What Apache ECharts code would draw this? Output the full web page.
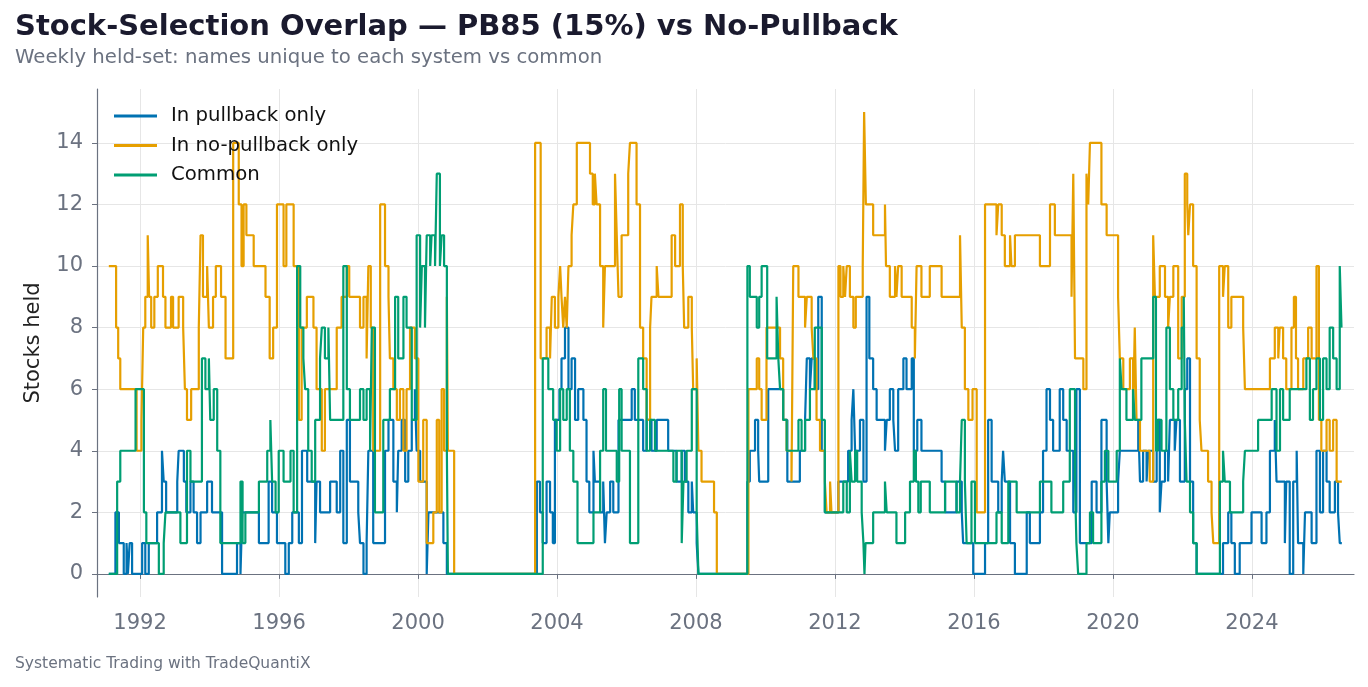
<!DOCTYPE html>
<html>
<head>
<meta charset="utf-8">
<script src="https://cdn.jsdelivr.net/npm/echarts@6/dist/echarts.min.js"></script>
<style>
  html, body { margin: 0; padding: 0; background: #fff; }
  #chart { width: 1368px; height: 687px; }
</style>
</head>
<body>
<div id="chart"></div>
<script>
// weekly held-set counts, kept as [decimal year, count] at each change
const pullbackOnly = [
  [1991.10, 0], [1991.29, 2], [1991.39, 1], [1991.53, 0], [1991.61, 1], [1991.65, 0], [1991.70, 1], [1991.77, 0],
  [1992.06, 1], [1992.15, 0], [1992.25, 1], [1992.49, 2], [1992.63, 4], [1992.68, 3], [1992.75, 2], [1993.07, 3],
  [1993.11, 4], [1993.26, 3], [1993.33, 2], [1993.45, 3], [1993.54, 2], [1993.64, 1], [1993.74, 2], [1993.93, 3],
  [1994.07, 2], [1994.36, 0], [1994.79, 1], [1994.89, 0], [1994.94, 2], [1995.42, 1], [1995.70, 3], [1995.80, 2],
  [1995.94, 1], [1996.18, 0], [1996.28, 1], [1996.38, 2], [1996.57, 1], [1996.66, 4], [1996.81, 3], [1997.04, 1],
  [1997.08, 3], [1997.18, 2], [1997.47, 3], [1997.66, 2], [1997.76, 4], [1997.85, 1], [1997.95, 5], [1998.04, 3],
  [1998.28, 2], [1998.33, 1], [1998.43, 0], [1998.52, 1], [1998.57, 4], [1998.71, 1], [1999.05, 4], [1999.15, 5],
  [1999.29, 3], [1999.39, 2], [1999.43, 4], [1999.53, 5], [1999.63, 3], [1999.72, 4], [1999.82, 5], [1999.91, 6],
  [1999.96, 4], [2000.06, 3], [2000.25, 0], [2000.30, 2], [2000.73, 1], [2000.83, 0],
  [2003.42, 3], [2003.51, 2], [2003.59, 1], [2003.70, 3], [2003.80, 2], [2003.88, 1], [2003.94, 5], [2004.07, 6],
  [2004.13, 7], [2004.23, 8], [2004.33, 6], [2004.42, 7], [2004.52, 5], [2004.61, 6], [2004.76, 5], [2004.85, 3],
  [2004.93, 2], [2005.05, 4], [2005.09, 3], [2005.24, 2], [2005.33, 3], [2005.38, 1], [2005.43, 2], [2005.53, 3],
  [2005.62, 2], [2005.77, 5], [2006.15, 6], [2006.24, 5], [2006.48, 4], [2006.58, 5], [2006.72, 4], [2006.87, 5],
  [2007.20, 4], [2007.44, 3], [2007.59, 4], [2007.68, 3], [2007.78, 2], [2007.88, 3], [2007.92, 2], [2008.02, 1],
  [2008.07, 0],
  [2009.48, 3], [2009.55, 4], [2009.70, 5], [2009.79, 4], [2009.82, 3], [2010.08, 6], [2010.51, 5], [2010.63, 3],
  [2010.99, 4], [2011.14, 5], [2011.19, 7], [2011.28, 6], [2011.33, 7], [2011.42, 6], [2011.52, 9], [2011.62, 4],
  [2011.71, 2], [2012.10, 3], [2012.38, 4], [2012.48, 5], [2012.53, 6], [2012.58, 4], [2012.72, 5], [2012.82, 3],
  [2012.91, 9], [2012.99, 7], [2013.10, 6], [2013.20, 5], [2013.44, 4], [2013.49, 5], [2013.58, 6], [2013.68, 5],
  [2013.73, 4], [2013.82, 6], [2013.97, 7], [2014.06, 6], [2014.21, 7], [2014.27, 4], [2014.37, 5], [2014.49, 4],
  [2015.07, 3], [2015.17, 2], [2015.50, 3], [2015.65, 2], [2015.69, 1], [2015.98, 0], [2016.32, 1], [2016.41, 5],
  [2016.51, 3], [2016.70, 2], [2016.80, 3], [2016.84, 4], [2016.89, 3], [2017.04, 1], [2017.18, 0], [2017.52, 2],
  [2017.61, 1], [2017.90, 2], [2017.99, 4], [2018.09, 6], [2018.19, 5], [2018.28, 4], [2018.47, 6], [2018.57, 5],
  [2018.67, 4], [2018.86, 2], [2018.95, 6], [2019.05, 1], [2019.39, 3], [2019.53, 2], [2019.67, 5], [2019.82, 3],
  [2019.87, 1], [2019.91, 2], [2020.15, 3], [2020.20, 4], [2020.73, 5], [2020.78, 3], [2020.87, 4], [2020.97, 3],
  [2021.02, 4], [2021.16, 3], [2021.26, 5], [2021.35, 2], [2021.40, 3], [2021.50, 4], [2021.59, 3], [2021.64, 5],
  [2021.78, 4], [2021.83, 5], [2021.93, 3], [2022.07, 6], [2022.14, 7], [2022.22, 3], [2022.31, 1], [2022.41, 0],
  [2023.17, 1], [2023.32, 2], [2023.41, 1], [2023.51, 0], [2023.65, 1], [2023.99, 2], [2024.28, 1], [2024.42, 2],
  [2024.52, 4], [2024.66, 5], [2024.71, 3], [2024.95, 1], [2024.99, 3], [2025.09, 0], [2025.19, 3], [2025.29, 4],
  [2025.33, 1], [2025.48, 0], [2025.53, 2], [2025.72, 1], [2025.86, 4], [2025.96, 2], [2026.05, 4], [2026.15, 3],
  [2026.24, 2], [2026.39, 3], [2026.48, 2], [2026.53, 1], [2026.59, 1]
];

const noPullbackOnly = [
  [1991.10, 10], [1991.31, 8], [1991.37, 7], [1991.43, 6], [1991.90, 4], [1992.04, 5], [1992.09, 8], [1992.15, 9],
  [1992.22, 11], [1992.26, 9], [1992.32, 8], [1992.41, 9], [1992.51, 10], [1992.66, 9], [1992.73, 8], [1992.89, 9],
  [1992.95, 8], [1993.11, 9], [1993.24, 8], [1993.29, 6], [1993.35, 5], [1993.47, 6], [1993.69, 8], [1993.74, 11],
  [1993.81, 9], [1993.93, 10], [1993.98, 8], [1994.10, 9], [1994.18, 10], [1994.33, 9], [1994.46, 7], [1994.68, 14],
  [1994.84, 12], [1994.92, 10], [1994.98, 12], [1995.06, 11], [1995.27, 10], [1995.61, 9], [1995.73, 7], [1995.83, 8],
  [1995.94, 12], [1996.13, 10], [1996.21, 12], [1996.42, 10], [1996.57, 5], [1996.65, 8], [1996.80, 9], [1996.99, 8],
  [1997.08, 6], [1997.23, 4], [1997.32, 6], [1997.66, 8], [1997.80, 9], [1997.95, 10], [1998.02, 9], [1998.33, 8],
  [1998.43, 9], [1998.52, 7], [1998.57, 10], [1998.64, 8], [1998.71, 4], [1998.91, 12], [1999.05, 10], [1999.15, 9],
  [1999.19, 7], [1999.29, 6], [1999.39, 5], [1999.48, 6], [1999.58, 4], [1999.67, 6], [1999.77, 8], [1999.91, 7],
  [2000.01, 3], [2000.15, 5], [2000.25, 1], [2000.44, 2], [2000.54, 5], [2000.61, 2], [2000.68, 6], [2000.75, 4],
  [2000.83, 9], [2000.86, 4], [2001.04, 0],
  [2003.37, 14], [2003.53, 7], [2003.70, 8], [2003.80, 7], [2003.85, 9], [2003.94, 8], [2004.04, 9], [2004.09, 10],
  [2004.13, 9], [2004.18, 8], [2004.23, 9], [2004.28, 8], [2004.33, 10], [2004.42, 11], [2004.47, 12], [2004.57, 14],
  [2004.95, 13], [2005.03, 12], [2005.09, 13], [2005.14, 12], [2005.24, 10], [2005.33, 8], [2005.38, 10], [2005.67, 13],
  [2005.72, 11], [2005.77, 9], [2005.86, 11], [2006.05, 13], [2006.10, 14], [2006.29, 12], [2006.39, 8], [2006.48, 7],
  [2006.58, 5], [2006.68, 8], [2006.72, 9], [2006.87, 10], [2006.92, 9], [2007.30, 11], [2007.40, 10], [2007.54, 12],
  [2007.62, 10], [2007.66, 8], [2007.78, 9], [2007.88, 8], [2007.92, 6], [2008.02, 7], [2008.07, 4], [2008.16, 3],
  [2008.52, 2], [2008.60, 0],
  [2009.51, 6], [2009.75, 7], [2009.82, 6], [2009.89, 5], [2010.03, 8], [2010.42, 7], [2010.51, 5], [2010.61, 4],
  [2010.75, 3], [2010.80, 10], [2010.95, 9], [2011.14, 8], [2011.19, 9], [2011.33, 8], [2011.38, 7], [2011.47, 5],
  [2011.57, 4], [2011.71, 3], [2011.76, 2], [2011.86, 3], [2011.90, 2], [2012.10, 10], [2012.16, 9], [2012.24, 10],
  [2012.29, 9], [2012.34, 10], [2012.43, 9], [2012.53, 8], [2012.60, 9], [2012.80, 10], [2012.84, 15], [2012.89, 12],
  [2013.10, 11], [2013.44, 12], [2013.47, 10], [2013.58, 9], [2013.73, 10], [2013.77, 9], [2013.82, 10], [2013.92, 9],
  [2014.21, 8], [2014.30, 7], [2014.35, 10], [2014.49, 9], [2014.73, 10], [2015.07, 9], [2015.60, 11], [2015.65, 8],
  [2015.74, 6], [2015.84, 5], [2015.96, 6], [2016.08, 2], [2016.32, 12], [2016.65, 11], [2016.70, 12], [2016.80, 11],
  [2016.89, 10], [2017.04, 11], [2017.08, 10], [2017.18, 11], [2017.90, 10], [2018.19, 12], [2018.33, 11], [2018.81, 9],
  [2018.86, 13], [2018.91, 7], [2019.15, 6], [2019.24, 13], [2019.29, 12], [2019.34, 14], [2019.67, 12], [2019.82, 11],
  [2020.15, 9], [2020.20, 7], [2020.30, 6], [2020.49, 7], [2020.58, 5], [2020.63, 8], [2020.68, 5], [2020.78, 4],
  [2021.06, 3], [2021.16, 11], [2021.21, 9], [2021.35, 10], [2021.50, 9], [2021.59, 8], [2021.64, 9], [2021.74, 10],
  [2021.88, 7], [2021.98, 9], [2022.07, 13], [2022.14, 12], [2022.17, 11], [2022.22, 12], [2022.31, 10], [2022.41, 7],
  [2022.50, 5], [2022.55, 4], [2022.74, 3], [2022.84, 2], [2022.89, 1], [2023.06, 10], [2023.17, 9], [2023.22, 10],
  [2023.32, 8], [2023.41, 9], [2023.75, 8], [2023.80, 6], [2024.52, 7], [2024.66, 8], [2024.76, 7], [2024.80, 8],
  [2024.90, 7], [2024.99, 6], [2025.14, 8], [2025.21, 9], [2025.27, 7], [2025.33, 6], [2025.48, 7], [2025.62, 8],
  [2025.72, 7], [2025.86, 10], [2025.93, 5], [2026.00, 4], [2026.15, 5], [2026.24, 4], [2026.34, 5], [2026.44, 3],
  [2026.59, 3]
];

const common = [
  [1991.10, 0], [1991.34, 3], [1991.43, 4], [1991.87, 6], [1992.11, 2], [1992.18, 1], [1992.54, 0], [1992.68, 1],
  [1992.73, 2], [1993.16, 1], [1993.35, 4], [1993.45, 3], [1993.78, 7], [1993.88, 6], [1993.98, 7], [1994.02, 5],
  [1994.12, 6], [1994.22, 4], [1994.31, 1], [1994.89, 3], [1994.95, 1], [1995.03, 2], [1995.42, 3], [1995.66, 4],
  [1995.75, 5], [1995.80, 3], [1995.90, 2], [1995.99, 4], [1996.13, 3], [1996.33, 4], [1996.42, 2], [1996.52, 10],
  [1996.61, 8], [1996.70, 7], [1996.75, 6], [1996.84, 4], [1996.94, 3], [1997.04, 5], [1997.18, 7], [1997.23, 8],
  [1997.32, 7], [1997.42, 8], [1997.47, 5], [1997.85, 10], [1997.95, 6], [1998.04, 5], [1998.33, 6], [1998.43, 5],
  [1998.52, 6], [1998.62, 4], [1998.67, 8], [1998.76, 2], [1999.00, 5], [1999.19, 6], [1999.34, 9], [1999.43, 7],
  [1999.58, 9], [1999.67, 8], [1999.82, 5], [1999.96, 11], [2000.06, 8], [2000.11, 10], [2000.20, 8], [2000.25, 11],
  [2000.35, 10], [2000.39, 11], [2000.49, 10], [2000.54, 13], [2000.63, 10], [2000.68, 11], [2000.75, 10], [2000.83, 4],
  [2000.86, 0],
  [2003.59, 7], [2003.75, 6], [2003.89, 5], [2003.99, 4], [2004.09, 6], [2004.18, 5], [2004.28, 6], [2004.37, 4],
  [2004.47, 3], [2004.59, 1], [2005.05, 2], [2005.24, 4], [2005.33, 6], [2005.41, 4], [2005.72, 3], [2005.79, 6],
  [2005.86, 4], [2006.10, 1], [2006.34, 7], [2006.48, 6], [2006.58, 4], [2006.68, 5], [2006.82, 4], [2007.35, 3],
  [2007.44, 4], [2007.59, 1], [2007.64, 3], [2007.73, 4], [2007.88, 6], [2008.02, 2], [2008.07, 0],
  [2009.48, 10], [2009.55, 9], [2009.75, 8], [2009.82, 9], [2009.89, 10], [2010.05, 7], [2010.32, 9], [2010.37, 7],
  [2010.42, 6], [2010.51, 5], [2010.61, 4], [2010.95, 5], [2011.04, 4], [2011.14, 5], [2011.28, 6], [2011.42, 8],
  [2011.62, 5], [2011.71, 2], [2012.24, 3], [2012.34, 2], [2012.43, 4], [2012.48, 3], [2012.58, 4], [2012.64, 3],
  [2012.77, 2], [2012.82, 1], [2012.85, 0], [2012.88, 1], [2013.10, 2], [2013.44, 3], [2013.49, 2], [2013.77, 1],
  [2014.02, 2], [2014.16, 3], [2014.27, 4], [2014.33, 3], [2014.40, 2], [2014.47, 3], [2014.73, 2], [2015.17, 3],
  [2015.50, 2], [2015.60, 3], [2015.65, 5], [2015.74, 3], [2015.79, 1], [2015.93, 3], [2016.03, 1], [2016.65, 2],
  [2016.80, 1], [2016.99, 3], [2017.23, 2], [2017.90, 3], [2018.23, 2], [2018.57, 3], [2018.76, 6], [2018.91, 3],
  [2018.95, 1], [2019.00, 0], [2019.24, 1], [2019.34, 2], [2019.43, 1], [2019.67, 3], [2019.77, 4], [2019.87, 3],
  [2020.11, 4], [2020.20, 7], [2020.25, 6], [2020.39, 5], [2020.58, 6], [2020.63, 5], [2020.82, 7], [2021.16, 9],
  [2021.24, 4], [2021.30, 5], [2021.40, 4], [2021.54, 8], [2021.64, 6], [2021.74, 5], [2021.88, 6], [2021.98, 8],
  [2022.04, 9], [2022.07, 5], [2022.12, 3], [2022.22, 2], [2022.31, 1], [2022.41, 0], [2023.08, 3], [2023.17, 4],
  [2023.22, 3], [2023.37, 2], [2023.75, 3], [2023.80, 4], [2024.18, 5], [2024.57, 6], [2024.71, 4], [2024.81, 6],
  [2024.90, 5], [2025.09, 6], [2025.57, 7], [2025.67, 5], [2025.76, 6], [2025.86, 7], [2025.96, 5], [2026.05, 7],
  [2026.15, 6], [2026.24, 8], [2026.34, 7], [2026.44, 6], [2026.53, 10], [2026.58, 8], [2026.59, 8]
];

const yearTicks = [1992, 1996, 2000, 2004, 2008, 2012, 2016, 2020, 2024];
const countTicks = [0, 2, 4, 6, 8, 10, 12, 14];

const axisGray = "#6b7280";
const gridGray = "#e6e6e6";
const font = "'DejaVu Sans', sans-serif";

const chart = echarts.init(document.getElementById("chart"), null, { renderer: "canvas" });

function lineSeries(name, data, color) {
  return {
    name,
    type: "line",
    step: "end",
    data,
    showSymbol: false,
    symbol: "none",
    lineStyle: { width: 2.2, color },
    itemStyle: { color },
    emphasis: { disabled: true }
  };
}

chart.setOption({
  animation: false,
  backgroundColor: "#fff",
  title: [
    {
      text: "Stock-Selection Overlap — PB85 (15%) vs No-Pullback",
      left: 15, top: 13, padding: 0,
      textStyle: { fontFamily: font, fontSize: 29, fontWeight: "bold", color: "#1a1a2e" }
    },
    {
      text: "Weekly held-set: names unique to each system vs common",
      left: 15, top: 48, padding: 0,
      textStyle: { fontFamily: font, fontSize: 19.7, fontWeight: "normal", color: axisGray }
    },
    {
      text: "Systematic Trading with TradeQuantiX",
      left: 15, top: 656, padding: 0,
      textStyle: { fontFamily: font, fontSize: 15.5, fontWeight: "normal", color: axisGray }
    }
  ],
  legend: {
    orient: "vertical",
    left: 114, top: 106, padding: 0,
    icon: "rect",
    itemWidth: 43, itemHeight: 3,
    itemGap: 9.5,
    textStyle: { fontFamily: font, fontSize: 19.7, color: "#111", padding: [0, 0, 0, 9], lineHeight: 20 },
    data: ["In pullback only", "In no-pullback only", "Common"]
  },
  grid: { left: 97, right: 14, top: 89, bottom: 90, containLabel: false },
  xAxis: {
    type: "value",
    min: 1990.76,
    max: 2026.94,
    axisLine: { show: true, lineStyle: { color: axisGray, width: 1.2 } },
    axisTick: { show: true, length: 5, lineStyle: { color: axisGray }, customValues: yearTicks },
    axisLabel: {
      customValues: yearTicks,
      formatter: v => String(v),
      fontFamily: font, fontSize: 21, color: axisGray, margin: 16
    },
    splitLine: { show: true, lineStyle: { color: gridGray, width: 1 } }
  },
  yAxis: {
    type: "value",
    min: -0.75,
    max: 15.75,
    name: "Stocks held",
    nameLocation: "middle",
    nameGap: 53,
    nameTextStyle: { fontFamily: font, fontSize: 21, color: "#222" },
    axisLine: { show: true, lineStyle: { color: axisGray, width: 1.2 } },
    axisTick: { show: true, length: 5, lineStyle: { color: axisGray }, customValues: countTicks },
    axisLabel: {
      customValues: countTicks,
      fontFamily: font, fontSize: 21, color: axisGray, margin: 14,
      padding: [3, 0, 0, 0]
    },
    splitLine: { show: true, lineStyle: { color: gridGray, width: 1 } }
  },
  series: [
    lineSeries("In pullback only", pullbackOnly, "#0072B2"),
    lineSeries("In no-pullback only", noPullbackOnly, "#E69F00"),
    lineSeries("Common", common, "#009E73")
  ]
});
</script>
</body>
</html>
